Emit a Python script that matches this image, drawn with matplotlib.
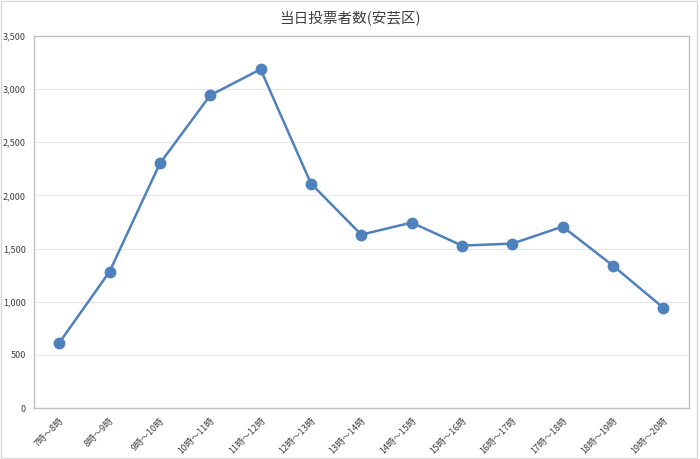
import matplotlib
matplotlib.use('Agg')
import matplotlib.pyplot as plt
from matplotlib.patches import Rectangle

plt.rcParams['font.family'] = ['Noto Sans CJK JP', 'DejaVu Sans']

# データ
categories = ['7時～8時', '8時～9時', '9時～10時', '10時～11時', '11時～12時',
              '12時～13時', '13時～14時', '14時～15時', '15時～16時', '16時～17時',
              '17時～18時', '18時～19時', '19時～20時']
voters = [613, 1283, 2301, 2942, 3187, 2112, 1631, 1745, 1528, 1547, 1707, 1339, 943]
yticks = [0, 500, 1000, 1500, 2000, 2500, 3000, 3500]

fig = plt.figure(figsize=(7, 4.59), dpi=100)
ax = fig.add_axes([0.0486, 0.111, 0.935, 0.8106])

x = range(len(categories))
ax.plot(x, voters, color='#4f81bd', linewidth=1.8, marker='o', markersize=7.5, zorder=3)

ax.set_xlim(-0.5, len(categories) - 0.5)
ax.set_ylim(0, 3500)
ax.set_yticks(yticks)
ax.set_yticklabels([f'{v:,}' for v in yticks], fontsize=6.5, color='#404040')
ax.set_xticks(list(x))
ax.set_xticklabels(categories, rotation=45, ha='right', rotation_mode='anchor',
                   fontsize=6.5, color='#404040')
ax.tick_params(length=0, pad=6)
ax.grid(axis='y', color='#e6e6e6', linewidth=0.8)
ax.set_axisbelow(True)
for s in ax.spines.values():
    s.set_color('#c0c0c0')
    s.set_linewidth(1)

fig.text(0.5, 0.962, '当日投票者数(安芸区)', ha='center', va='center', fontsize=10.5, color='#404040')

# 外枠
fig.patches.append(Rectangle((0.002, 0.003), 0.994, 0.994, transform=fig.transFigure,
                             fill=False, edgecolor='#d9d9d9', linewidth=1))

fig.savefig('out.png', dpi=100)
